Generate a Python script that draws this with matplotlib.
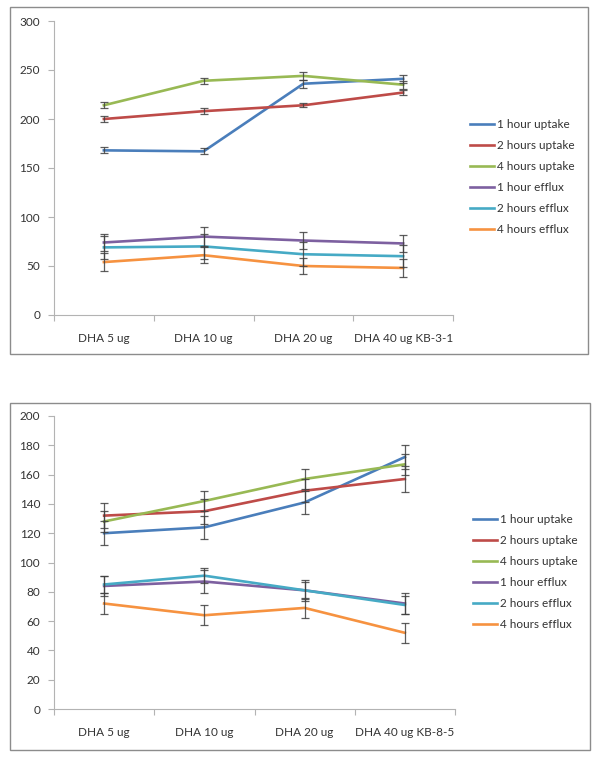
import matplotlib
matplotlib.use("Agg")
import matplotlib.pyplot as plt
from matplotlib.patches import Rectangle

# ---- data ----
doses = ["DHA 5 ug", "DHA 10 ug", "DHA 20 ug"]
last_top = "DHA 40 ug KB-3-1"
last_bottom = "DHA 40 ug KB-8-5"
series_names = ["1 hour uptake", "2 hours uptake", "4 hours uptake",
                "1 hour efflux", "2 hours efflux", "4 hours efflux"]

# KB-3-1 panel
kb31_uptake_1h = [168, 167, 236, 241]
kb31_uptake_2h = [200, 208, 214, 227]
kb31_uptake_4h = [214, 239, 244, 235]
kb31_efflux_1h = [74, 80, 76, 73]
kb31_efflux_2h = [69, 70, 62, 60]
kb31_efflux_4h = [54, 61, 50, 48]
kb31_err_uptake_1h = [3, 3, 4, 4]
kb31_err_uptake_2h = [3, 3, 2, 3]
kb31_err_uptake_4h = [3, 3, 4, 4]
kb31_err_efflux_1h = [9, 10, 9, 9]
kb31_err_efflux_2h = [12, 13, 12, 11]
kb31_err_efflux_4h = [9, 8, 8, 9]

# KB-8-5 panel
kb85_uptake_1h = [120, 124, 141, 172]
kb85_uptake_2h = [132, 135, 149, 157]
kb85_uptake_4h = [128, 142, 157, 167]
kb85_efflux_1h = [84, 87, 81, 72]
kb85_efflux_2h = [85, 91, 81, 71]
kb85_efflux_4h = [72, 64, 69, 52]
kb85_err_uptake_1h = [8, 8, 8, 8]
kb85_err_uptake_2h = [8.5, 8.5, 8, 9]
kb85_err_uptake_4h = [7, 7, 7, 7]
kb85_err_efflux_1h = [7, 8, 7, 7]
kb85_err_efflux_2h = [6, 5, 6, 6]
kb85_err_efflux_4h = [7, 7, 7, 7]

COLORS = ["#4a7ebb", "#be4b48", "#98b954", "#7d60a0", "#46aac5", "#f69240"]
ERR = "#404040"
AXIS = "#b3b3b3"
FRAME = "#8c8c8c"
TXT = "#333333"

plt.rcParams.update({"font.family": ["Lato", "DejaVu Sans"], "font.size": 8.5})

W, H = 600, 761
fig = plt.figure(figsize=(W / 100, H / 100), dpi=100)


def px_axes(x0, y_top, x1, y_bot):
    return fig.add_axes([x0 / W, 1 - y_bot / H, (x1 - x0) / W, (y_bot - y_top) / H])


def draw_panel(ax, vals, errs, labels, ymax, ystep, legend_xy):
    x = [0.5, 1.5, 2.5, 3.5]
    handles = []
    for v, e, c, name in zip(vals, errs, COLORS, series_names):
        ax.errorbar(x, v, yerr=e, fmt="none", ecolor=ERR, elinewidth=0.9,
                    capsize=2.6, capthick=0.9, alpha=0.85, zorder=3)
        h, = ax.plot(x, v, color=c, lw=1.9, label=name, zorder=2)
        handles.append(h)
    ax.set_xlim(0, 4)
    ax.set_ylim(0, ymax)
    ax.set_yticks(range(0, ymax + 1, ystep))
    ax.set_xticks([0, 1, 2, 3, 4])
    ax.set_xticklabels([])
    ax.set_xticks(x, minor=True)
    ax.set_xticklabels(labels, minor=True)
    ax.tick_params(axis="x", which="major", length=4, color=AXIS, direction="out")
    ax.tick_params(axis="x", which="minor", length=0, pad=13, colors=TXT)
    ax.tick_params(axis="y", length=4, color=AXIS, pad=6, colors=TXT)
    for lbl in ax.get_yticklabels():
        lbl.set_color(TXT)
    for s in ["top", "right"]:
        ax.spines[s].set_visible(False)
    for s in ["left", "bottom"]:
        ax.spines[s].set_color(AXIS)
        ax.spines[s].set_linewidth(0.8)
    ax.set_facecolor("none")
    fig.legend(handles=handles, loc="upper left",
               bbox_to_anchor=(legend_xy[0] / W, 1 - legend_xy[1] / H),
               frameon=False, fontsize=8.5, handlelength=2.0, handletextpad=0.25,
               labelspacing=0.85, borderpad=0, borderaxespad=0, labelcolor=TXT)


# outer chart frames
fig.add_artist(Rectangle((10 / W, 1 - 354 / H), 578 / W, 347 / H, transform=fig.transFigure,
                         fill=False, edgecolor=FRAME, lw=1.0))
fig.add_artist(Rectangle((10 / W, 1 - 750 / H), 580 / W, 347 / H, transform=fig.transFigure,
                         fill=False, edgecolor=FRAME, lw=1.0))

ax1 = px_axes(54, 21, 453, 315)
draw_panel(ax1,
           [kb31_uptake_1h, kb31_uptake_2h, kb31_uptake_4h,
            kb31_efflux_1h, kb31_efflux_2h, kb31_efflux_4h],
           [kb31_err_uptake_1h, kb31_err_uptake_2h, kb31_err_uptake_4h,
            kb31_err_efflux_1h, kb31_err_efflux_2h, kb31_err_efflux_4h],
           doses + [last_top], 300, 50, (470, 119))

ax2 = px_axes(54, 416, 455, 709)
draw_panel(ax2,
           [kb85_uptake_1h, kb85_uptake_2h, kb85_uptake_4h,
            kb85_efflux_1h, kb85_efflux_2h, kb85_efflux_4h],
           [kb85_err_uptake_1h, kb85_err_uptake_2h, kb85_err_uptake_4h,
            kb85_err_efflux_1h, kb85_err_efflux_2h, kb85_err_efflux_4h],
           doses + [last_bottom], 200, 20, (473, 514))

fig.savefig("out.png", dpi=100, facecolor="white")
